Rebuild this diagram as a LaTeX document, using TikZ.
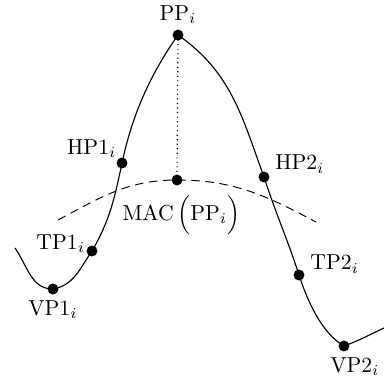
\documentclass[tikz,border=0pt]{standalone}
\usepackage{tikz}
\tikzset{dot/.style={circle,fill,inner sep=0pt,minimum size=5.8pt}}
\tikzset{curve/.style={line width=0.6pt}}
\begin{document}
\begin{tikzpicture}[x=0.53pt,y=0.53pt,every label/.style={scale=1.15}]
    \useasboundingbox (0,0) rectangle (384,376);
    \coordinate (l) at (15,128);
    \coordinate (r) at (384,48);
    \coordinate (dl) at (58,156);
    \coordinate (dr) at (316,154);
    \node[dot,label={[label distance=-1pt]above:{$\mathrm{PP}_i$}}] (pp) at (178,341) {};
    \node[dot,label={[label distance=-4pt]above left:{$\mathrm{HP1}_i$}}] (hp1) at (122,213) {};
    \node[dot,label={[label distance=-3pt,yshift=3.5pt]left:{$\mathrm{TP1}_i$}}] (tp1) at (92,125) {};
    \node[dot,label={[label distance=-1pt]below:{$\mathrm{VP1}_i$}}] (vp1) at (53,87) {};
    \node[dot,label={[label distance=-1pt,yshift=6pt]right:{$\mathrm{HP2}_i$}}] (hp2) at (264,199) {};
    \node[dot,label={[label distance=-1pt,yshift=5pt]right:{$\mathrm{TP2}_i$}}] (tp2) at (299,101) {};
    \node[dot,label={[label distance=-1pt,xshift=5pt]below:{$\mathrm{VP2}_i$}}] (vp2) at (344,30) {};
    \node[dot,label={[label distance=1pt,xshift=2pt]below:{$\mathrm{MAC}\,\Bigl(\mathrm{PP}_i\Bigr)$}}] (mac) at (177,196) {};
    \draw[curve] (l) to[out=-55,in=180] (vp1.center)
      to[out=10,in=235] (tp1.center)
      to[out=60,in=258] (hp1.center)
      to[out=78,in=235,looseness=0.9] (pp.center)
      to[out=-35,in=110] (hp2.center)
      to[out=-72,in=108] (tp2.center)
      to[out=-72,in=150,looseness=0.8] (vp2.center)
      to[out=20,in=205] (r);
    \draw[curve,line width=0.5pt,dash pattern=on 4.5pt off 3pt] (dl) to[out=28,in=180] (mac.center) to[out=0,in=152] (dr);
    \draw[line width=0.6pt,dash pattern=on 0.6pt off 1.8pt] (pp.center) -- (mac.center);
\end{tikzpicture}
\end{document}
